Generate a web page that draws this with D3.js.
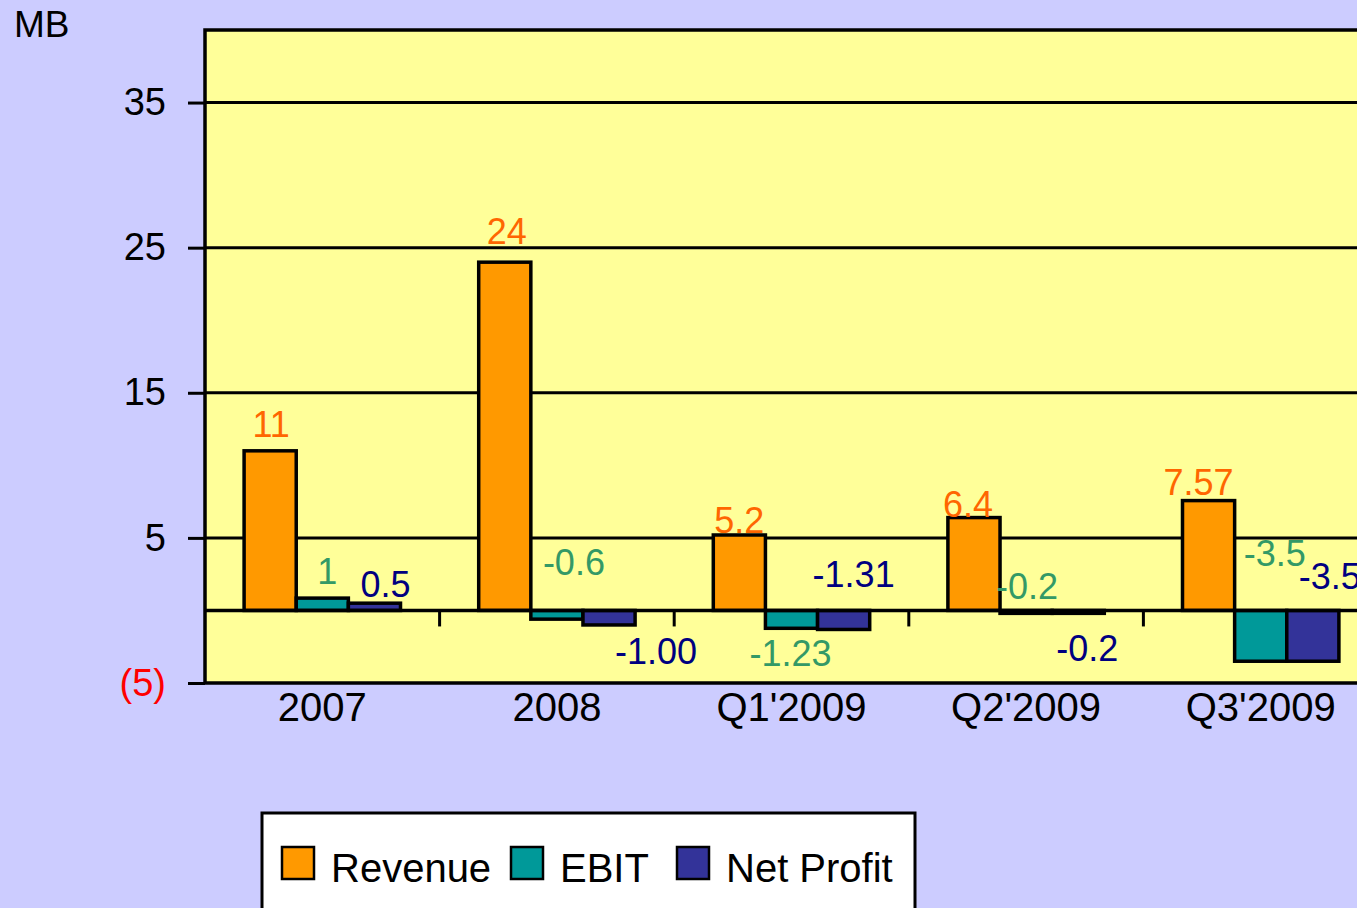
<!DOCTYPE html>
<html>
<head>
<meta charset="utf-8">
<script src="https://cdn.jsdelivr.net/npm/d3@7"></script>
<style>
  html, body { margin: 0; padding: 0; background: #ccccff; }
  svg { display: block; font-family: "Liberation Sans", Arial, sans-serif; }
</style>
</head>
<body>
<div id="chart"></div>
<script>
// data
var categories = ["2007", "2008", "Q1'2009", "Q2'2009", "Q3'2009"];
var seriesNames = ["Revenue", "EBIT", "Net Profit"];
var revenue = [11, 24, 5.2, 6.4, 7.57];
var ebit = [0.85, -0.6, -1.23, -0.2, -3.5];
var netProfit = [0.5, -1.0, -1.31, -0.2, -3.5];
var revenueLabels = ["11", "24", "5.2", "6.4", "7.57"];
var ebitLabels = ["1", "-0.6", "-1.23", "-0.2", "-3.5"];
var netProfitLabels = ["0.5", "-1.00", "-1.31", "-0.2", "-3.5"];
var yTicks = [-5, 5, 15, 25, 35];

// hand placed label nudges (px), like in the original sheet
var labelShift = [
  [[1, 0], [2, -4], [0, 12], [-6, 13], [-10, 8]],
  [[5, 0], [17, -21], [-1, 70], [1, 3], [14, -30]],
  [[11, 8], [47, 68], [10, -9], [9, 65], [17, -7]]
];

var fills = ["#ff9900", "#009999", "#333399"];
var labelColors = ["#ff6600", "#339966", "#000080"];

var width = 1357, height = 908;
var plot = {left: 205, top: 30, right: 1378, bottom: 683};

var svg = d3.select("#chart").append("svg")
  .attr("width", width)
  .attr("height", height);

svg.append("rect")
  .attr("width", width).attr("height", height)
  .attr("fill", "#ccccff");

var x0 = d3.scaleBand()
  .domain(categories)
  .range([plot.left, plot.right])
  .padding(0);

var x1 = d3.scaleBand()
  .domain(seriesNames)
  .range([0, x0.bandwidth()])
  .paddingInner(0)
  .paddingOuter(0.75);

var y = d3.scaleLinear()
  .domain([-5, 40])
  .range([plot.bottom, plot.top]);

// plot area
svg.append("rect")
  .attr("x", plot.left).attr("y", plot.top)
  .attr("width", plot.right - plot.left)
  .attr("height", plot.bottom - plot.top)
  .attr("fill", "#ffff99");

// gridlines
svg.append("g").selectAll("line")
  .data(yTicks.filter(function(t) { return t > -5; }))
  .join("line")
  .attr("x1", plot.left).attr("x2", plot.right)
  .attr("y1", function(d) { return y(d); })
  .attr("y2", function(d) { return y(d); })
  .attr("stroke", "#000").attr("stroke-width", 3);

// y axis
var yAxis = svg.append("g")
  .attr("transform", "translate(" + plot.left + ",0)")
  .call(d3.axisLeft(y).tickValues(yTicks).tickSize(17).tickPadding(22)
    .tickFormat(function(d) { return d < 0 ? "(" + Math.abs(d) + ")" : d; }));
yAxis.select(".domain").remove();
yAxis.selectAll(".tick line").attr("stroke", "#000").attr("stroke-width", 3);
yAxis.selectAll(".tick text")
  .attr("font-size", 38)
  .attr("font-family", "Liberation Sans, Arial, sans-serif")
  .attr("fill", function(d) { return d < 0 ? "#ff0000" : "#000"; });

// bars
var allValues = [revenue, ebit, netProfit];
var allLabels = [revenueLabels, ebitLabels, netProfitLabels];

allValues.forEach(function(vals, si) {
  svg.append("g").selectAll("rect")
    .data(vals)
    .join("rect")
    .attr("x", function(d, i) { return x0(categories[i]) + x1(seriesNames[si]); })
    .attr("width", x1.bandwidth())
    .attr("y", function(d) { return y(Math.max(d, 0)); })
    .attr("height", function(d) { return Math.abs(y(d) - y(0)); })
    .attr("fill", fills[si])
    .attr("stroke", "#000")
    .attr("stroke-width", 3.5);
});

// zero axis with category ticks
svg.append("line")
  .attr("x1", plot.left).attr("x2", plot.right)
  .attr("y1", y(0)).attr("y2", y(0))
  .attr("stroke", "#000").attr("stroke-width", 3.5);

svg.append("g").selectAll("line")
  .data(categories.slice(1))
  .join("line")
  .attr("x1", function(d) { return x0(d); })
  .attr("x2", function(d) { return x0(d); })
  .attr("y1", y(0)).attr("y2", y(0) + 16)
  .attr("stroke", "#000").attr("stroke-width", 3);

// plot border
svg.append("rect")
  .attr("x", plot.left).attr("y", plot.top)
  .attr("width", plot.right - plot.left)
  .attr("height", plot.bottom - plot.top)
  .attr("fill", "none")
  .attr("stroke", "#000").attr("stroke-width", 3.5);

// category labels
svg.append("g").selectAll("text")
  .data(categories)
  .join("text")
  .attr("x", function(d) { return x0(d) + x0.bandwidth() / 2; })
  .attr("y", 721)
  .attr("text-anchor", "middle")
  .attr("font-size", 40)
  .attr("fill", "#000")
  .text(function(d) { return d; });

// data labels
allValues.forEach(function(vals, si) {
  svg.append("g").selectAll("text")
    .data(vals)
    .join("text")
    .attr("x", function(d, i) {
      return x0(categories[i]) + x1(seriesNames[si]) + x1.bandwidth() / 2 + labelShift[si][i][0];
    })
    .attr("y", function(d, i) { return y(Math.max(d, 0)) - 14 + labelShift[si][i][1]; })
    .attr("text-anchor", "middle")
    .attr("font-size", 36)
    .attr("fill", labelColors[si])
    .text(function(d, i) { return allLabels[si][i]; });
});

// unit
svg.append("text")
  .attr("x", 14).attr("y", 37)
  .attr("font-size", 37)
  .attr("fill", "#000")
  .text("MB");

// legend
var legend = svg.append("g");
legend.append("rect")
  .attr("x", 262).attr("y", 813)
  .attr("width", 653).attr("height", 120)
  .attr("fill", "#fff")
  .attr("stroke", "#000").attr("stroke-width", 3);

var legendX = [282, 511, 677];
var item = legend.selectAll("g.item")
  .data(seriesNames)
  .join("g")
  .attr("class", "item")
  .attr("transform", function(d, i) { return "translate(" + legendX[i] + ",847)"; });
item.append("rect")
  .attr("width", 32).attr("height", 32)
  .attr("fill", function(d, i) { return fills[i]; })
  .attr("stroke", "#000").attr("stroke-width", 2.5);
item.append("text")
  .attr("x", 49).attr("y", 35)
  .attr("font-size", 40)
  .attr("fill", "#000")
  .text(function(d) { return d; });
</script>
</body>
</html>
